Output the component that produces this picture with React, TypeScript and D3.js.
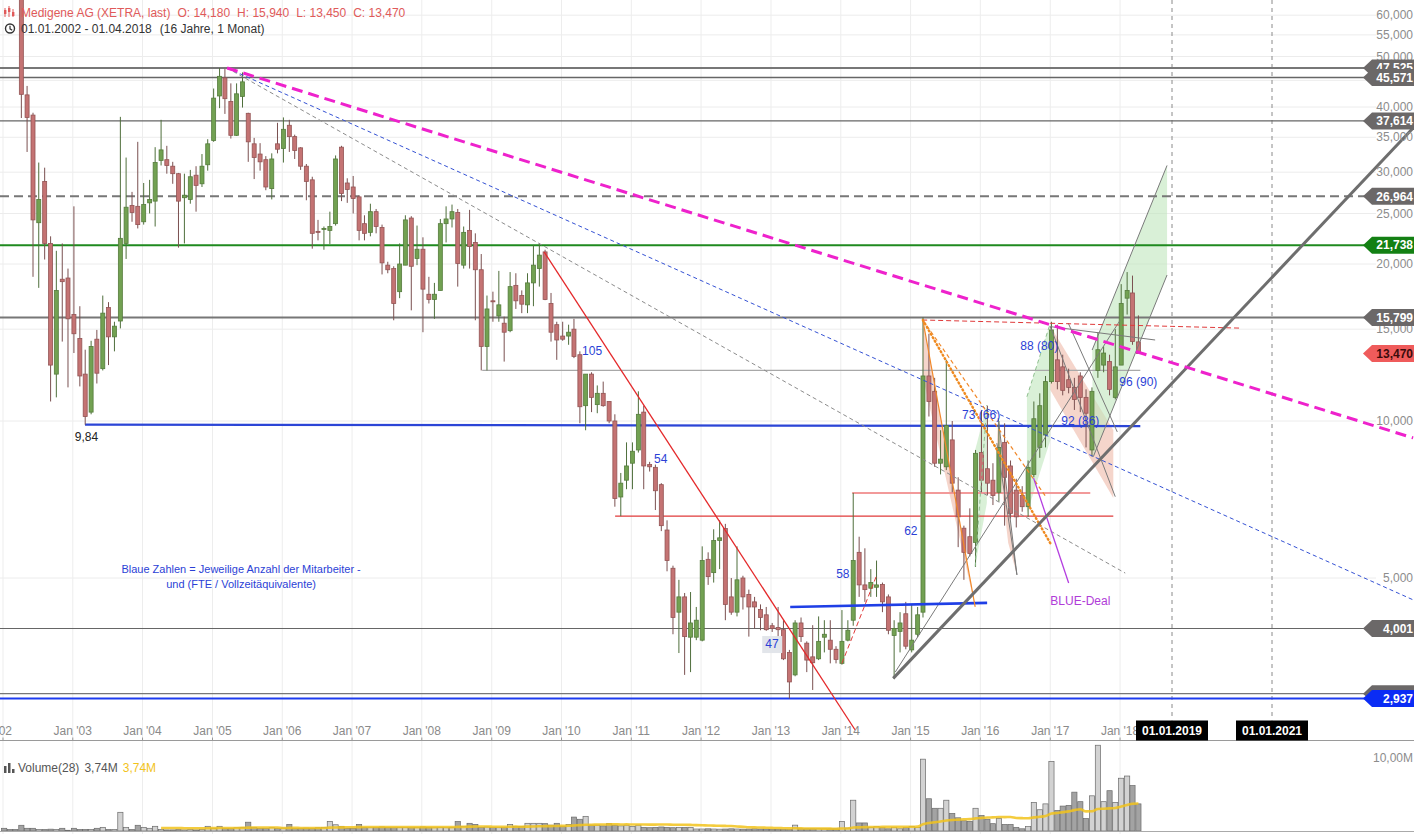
"use client"

import { useEffect, useRef } from "react"
import * as d3 from "d3"

const W = 1414
const H = 834

// Monthly candles Medigene AG (XETRA), Jan 2002 .. Apr 2018, EUR
const opens = [
  75, 72, 69, 67, 42.2, 38.6, 24.0, 28.8, 21.9, 12.3, 18.7, 18.8,
  16.0, 14.4, 12.3, 10.4, 14.35, 12.6, 16.5, 14.5, 15.55, 21.9, 25.9, 25.8,
  24.1, 26.2, 26.4, 31.6, 31.7, 30.8, 29.8, 26.8, 26.6, 29.6, 28.5, 31.0,
  34.5, 42.0, 45.5, 41.0, 35.3, 41.9, 38.9, 34.0, 32.5, 31.7, 27.9, 34.0,
  33.3, 36.9, 35.1, 33.4, 30.8, 29.0, 23.1, 23.3, 23.2, 23.9, 33.5, 28.6,
  28.1, 26.9, 23.9, 23.0, 25.2, 23.5, 19.9, 19.6, 17.7, 19.9, 24.5, 20.5,
  21.35, 17.5, 17.1, 17.8, 23.9, 24.4, 25.1, 19.9, 23.2, 22.0, 19.5, 13.9,
  17.0, 15.9, 15.4, 14.9, 18.2, 17.4, 16.7, 18.4, 19.6, 21.1, 16.8, 15.3,
  14.55, 14.55, 15.0, 13.4, 10.7, 12.3, 10.75, 11.3, 10.9, 10.0, 7.15, 7.7,
  8.3, 8.8, 10.4, 8.25, 8.15, 7.55, 6.18, 5.22, 4.3, 4.6, 3.85, 3.85,
  3.8, 5.43, 5.12, 5.9, 6.22, 4.6, 4.3, 5.0, 4.65, 4.5, 4.35, 4.25,
  4.05, 4.02, 3.98, 3.6, 3.26, 4.1, 3.75, 3.53, 3.5, 3.85, 3.8, 3.65,
  3.43, 3.8, 4.15, 5.6, 4.85, 4.78, 4.8, 4.86, 4.6, 3.88, 3.95, 4.27,
  3.64, 3.9, 4.3, 12.2, 11.4, 8.3, 8.17, 9.2, 7.37, 6.23, 6.0, 5.85,
  8.7, 8.1, 7.7, 7.3, 9.1, 8.2, 7.37, 7.2, 6.85, 7.9, 8.9, 9.4,
  11.9, 13.1, 12.7, 12.0, 11.6, 12.2, 11.1, 8.8, 12.5, 12.8, 13.0, 11.1,
  12.8, 17.2, 17.6, 14.18,
]
const highs = [
  80, 76, 74, 69, 43.9, 39.0, 31.3, 30.6, 22.6, 21.2, 21.9, 19.6,
  25.8, 16.6, 13.7, 14.25, 14.95, 17.4, 16.9, 15.5, 38.3, 32.0, 27.5, 34.3,
  28.6, 29.0, 33.5, 37.8, 33.7, 31.4, 29.9, 29.8, 30.3, 30.8, 32.5, 34.7,
  43.4, 47.5, 47.3, 44.4, 44.4, 46.6, 39.0, 34.9, 34.1, 32.2, 32.6, 37.3,
  38.2, 37.8, 35.4, 33.5, 31.1, 29.4, 24.3, 23.6, 25.2, 32.3, 33.7, 29.2,
  29.5, 27.1, 24.8, 26.1, 25.5, 23.8, 20.2, 19.8, 21.9, 24.8, 24.7, 23.7,
  22.5, 18.9, 18.4, 24.4, 25.8, 26.0, 25.5, 23.6, 25.4, 22.9, 20.9, 17.4,
  17.7, 19.4, 15.85, 19.3, 19.2, 17.8, 19.2, 21.75, 21.9, 21.3, 17.6, 15.5,
  15.5, 15.3, 15.7, 13.6, 12.3, 12.4, 11.7, 11.9, 10.9, 10.3, 7.95, 9.1,
  9.1, 11.4, 10.7, 8.35, 8.25, 7.6, 6.45, 5.28, 4.96, 4.68, 4.7, 4.4,
  5.75, 5.6, 6.2, 6.45, 6.35, 5.0, 5.75, 5.05, 4.75, 4.6, 4.45, 4.4,
  4.1, 4.4, 4.15, 3.64, 4.15, 4.2, 3.78, 4.06, 4.22, 4.15, 4.15, 3.7,
  4.34, 4.15, 7.28, 6.0, 5.7, 5.2, 5.4, 4.9, 4.65, 4.15, 4.3, 4.5,
  4.45, 4.4, 15.8, 14.7, 12.1, 9.6, 13.1, 10.0, 7.8, 6.3, 6.8, 8.8,
  10.5, 10.7, 8.3, 10.0, 9.9, 8.4, 7.75, 7.5, 8.4, 10.9, 11.3, 12.2,
  15.5, 15.3, 13.4, 12.6, 12.1, 12.4, 11.5, 11.6, 14.8, 13.9, 13.4, 15.0,
  18.3, 19.3, 19.0, 15.94,
]
const lows = [
  68, 67, 66, 38.1, 32.8, 18.9, 18.0, 20.4, 10.9, 11.1, 14.2, 11.6,
  13.5, 11.65, 9.84, 10.3, 11.8, 12.5, 12.8, 13.6, 15.05, 20.45, 24.1, 23.4,
  23.8, 25.0, 23.6, 30.9, 29.8, 28.5, 21.5, 21.9, 26.1, 25.2, 28.1, 30.2,
  34.3, 39.8, 38.8, 34.8, 35.2, 39.9, 31.4, 29.1, 30.2, 27.7, 26.6, 32.6,
  31.3, 32.8, 31.8, 30.3, 26.5, 21.4, 22.2, 21.3, 21.85, 23.7, 26.4, 26.2,
  25.0, 22.2, 22.2, 22.6, 22.9, 19.1, 19.2, 15.6, 17.2, 19.9, 16.3, 19.9,
  14.8, 16.8, 15.7, 17.8, 22.0, 23.5, 18.1, 19.6, 19.6, 15.6, 12.5, 12.5,
  15.5, 15.5, 13.0, 14.8, 16.4, 16.1, 16.1, 16.6, 18.1, 17.05, 14.2, 13.1,
  14.25, 14.0, 13.2, 9.9, 9.6, 10.4, 10.35, 10.65, 9.9, 6.85, 6.57, 7.4,
  7.4, 8.7, 7.4, 8.0, 6.75, 6.15, 5.15, 3.9, 3.59, 3.26, 3.3, 3.8,
  3.78, 4.85, 4.9, 5.2, 4.15, 4.25, 4.22, 4.35, 3.86, 4.0, 3.97, 3.96,
  3.94, 3.77, 3.48, 2.937, 3.24, 3.77, 3.3, 3.05, 3.48, 3.6, 3.43, 3.43,
  3.41, 3.78, 4.05, 4.6, 4.5, 4.6, 4.6, 4.3, 3.9, 3.2, 3.6, 3.65,
  3.6, 3.85, 4.2, 10.2, 8.17, 7.9, 8.05, 7.3, 5.73, 4.96, 5.5, 5.25,
  7.3, 7.2, 6.9, 7.0, 6.3, 6.5, 6.25, 6.7, 6.55, 7.8, 8.5, 8.9,
  11.8, 11.5, 11.2, 11.3, 10.5, 10.4, 8.9, 8.55, 12.1, 12.4, 11.2, 11.0,
  12.8, 16.0, 14.0, 13.45,
]
const closes = [
  72, 69, 67, 42.3, 38.2, 24.3, 26.6, 21.9, 12.8, 17.8, 18.5, 15.7,
  14.7, 12.2, 10.2, 13.9, 12.35, 16.1, 14.5, 15.2, 22.4, 25.7, 25.1, 23.8,
  26.0, 26.6, 31.3, 33.1, 30.9, 29.8, 26.4, 27.1, 29.4, 28.3, 30.8, 34.0,
  41.6, 45.8, 41.5, 35.3, 42.4, 44.7, 34.3, 32.0, 31.4, 28.1, 31.8, 33.2,
  36.25, 35.1, 33.0, 30.8, 28.8, 22.9, 23.0, 23.4, 23.6, 31.8, 27.3, 27.8,
  26.7, 23.2, 22.9, 25.2, 23.6, 20.1, 19.5, 16.8, 20.0, 24.3, 19.8, 21.35,
  17.9, 17.1, 17.5, 23.9, 24.4, 25.2, 20.05, 23.0, 21.6, 19.5, 13.9, 16.4,
  16.95, 16.7, 14.8, 18.1, 17.0, 16.75, 18.4, 19.9, 20.8, 17.1, 14.8, 14.3,
  14.35, 14.8, 13.3, 10.65, 12.3, 11.1, 11.3, 10.7, 10.0, 7.1, 7.6, 8.2,
  8.75, 10.3, 8.2, 8.17, 7.35, 6.3, 5.4, 4.2, 4.6, 3.86, 4.1, 4.15,
  5.4, 5.03, 5.9, 5.97, 4.45, 4.3, 4.96, 4.6, 4.4, 4.4, 4.2, 3.98,
  4.0, 3.98, 3.5, 3.16, 4.1, 3.86, 3.48, 3.44, 3.78, 3.9, 3.65, 3.49,
  3.78, 3.97, 5.4, 4.85, 4.75, 4.9, 4.85, 4.5, 3.97, 4.0, 4.1, 3.7,
  3.8, 4.25, 12.2, 10.9, 8.3, 8.45, 9.8, 7.6, 6.55, 5.6, 5.57, 8.67,
  7.7, 7.6, 7.2, 8.9, 7.8, 6.65, 6.55, 6.85, 8.15, 10.1, 10.7, 11.9,
  14.95, 11.9, 11.45, 11.6, 11.0, 11.1, 10.35, 11.4, 13.7, 13.5, 11.5, 12.7,
  16.8, 17.8, 14.2, 13.47,
]
// monthly volume, millions of shares
const volumes = [
  0.37, 0.2, 0.2, 0.78, 0.37, 0.37, 0.2, 0.2, 0.25, 0.2, 0.37, 0.1,
  0.37, 0.2, 0.2, 0.2, 0.37, 0.5, 0.2, 0.2, 2.55, 0.5, 0.2, 0.78,
  0.5, 0.37, 0.64, 0.2, 0.15, 0.15, 0.2, 0.15, 0.2, 0.15, 0.2, 0.64,
  0.37, 0.64, 0.37, 0.37, 0.45, 0.5, 1.2, 0.5, 0.37, 0.37, 0.45, 0.37,
  0.4, 0.9, 0.37, 0.37, 0.4, 0.37, 0.45, 0.5, 1.3, 0.85, 0.64, 0.37,
  0.37, 0.9, 0.5, 0.45, 0.5, 0.55, 0.5, 0.45, 0.5, 0.5, 0.45, 0.5,
  0.55, 0.5, 0.45, 0.5, 0.45, 0.5, 1.3, 0.6, 1.05, 0.9, 0.5, 0.55,
  0.5, 0.45, 0.5, 0.9, 0.6, 0.6, 1.05, 1.05, 1.05, 1.0, 0.8, 1.05,
  0.6, 0.9, 1.9, 1.6, 2.0, 0.8, 0.8, 0.7, 1.0, 0.8, 0.7, 0.8,
  0.6, 0.8, 0.5, 0.45, 0.5, 0.55, 0.5, 0.45, 0.5, 0.5, 0.5, 0.27,
  0.27, 0.3, 0.27, 0.25, 0.27, 0.3, 0.27, 0.25, 0.27, 0.3, 0.27, 0.25,
  0.2, 0.2, 0.2, 0.2, 0.8, 0.3, 0.3, 0.3, 0.3, 0.3, 0.3, 0.3,
  1.3, 0.4, 4.2, 1.1, 1.1, 0.5, 0.6, 0.5, 0.3, 0.5, 0.3, 0.5,
  0.6, 0.5, 9.8, 4.4, 3.1, 3.1, 4.2, 2.4, 1.8, 1.4, 1.3, 3.1,
  2.1, 1.6, 1.0, 1.7, 0.9, 0.9, 0.5, 0.3, 0.6, 3.9, 2.9, 3.7,
  9.5, 2.8, 3.4, 3.5, 5.3, 4.0, 1.7, 4.8, 11.7, 4.0, 5.5, 3.9,
  7.2, 7.5, 6.2, 3.7,
]
const maPeriod = 28

const priceTicks = [60, 55, 50, 45, 40, 35, 30, 25, 20, 15, 10, 5]
const unlabeledTicks = [45]
const yearTicks = d3.range(2002, 2019)
const futureDates = [2019, 2021]

// horizontal levels with price tags on the right
const levelPrices = [47.525, 45.571, 37.614, 26.964, 21.738, 15.799, 4.001, 3.0, 2.937]

// drawn lines: [decimal year, price, decimal year, price]
const magentaTrend = [[2005.209, 47.52, 2023.84, 9.28]]
const blueDashTrend = [[2005.209, 47.52, 2023.84, 4.54]]
const greyDashTrend = [[2005.209, 47.52, 2018.074, 5.11]]
const redTrend = [[2009.751, 21.09, 2014.206, 2.556]]
const greyUpTrend = [[2014.751, 3.21, 2023.84, 36.46]]
const blueSupport = [[2003.175, 9.84, 2018.29, 9.78]]
const blueBase = [[2013.275, 4.40, 2016.097, 4.48]]
const greySupport = [[2008.863, 12.5, 2018.29, 12.5]]
const redSupport = [[2010.768, 6.57, 2017.903, 6.57]]
const pinkSupport = [[2014.163, 7.28, 2017.573, 7.28]]
const redDashLines = [[2015.166, 15.62, 2020.36, 15.07], [2014.016, 3.43, 2014.517, 5.07]]
const thinGreyLines = [
  [2014.78, 3.30, 2018.003, 15.62],
  [2017.0, 15.17, 2018.61, 14.30],
  [2017.0, 15.17, 2017.931, 7.16],
  [2017.258, 15.4, 2017.96, 9.53],
  [2017.6, 13.68, 2018.885, 30.9],
  [2017.616, 8.54, 2018.885, 19.05],
  [2016.255, 10.13, 2016.523, 5.07],
  [2016.236, 9.07, 2016.523, 5.07],
]
const orangeSolid = [[2015.176, 15.62, 2015.926, 4.40]]
const orangeDotted = [[2015.176, 15.62, 2017.0, 5.83]]
const orangeDashed = [[2015.176, 15.62, 2016.93, 7.18]]
const greenDashed = [[2016.666, 11.13, 2017.0, 15.4], [2015.926, 5.26, 2016.093, 10.73]]
const purpleLine = [[2016.761, 7.77, 2017.263, 4.89]]

const salmonZones = [
  [[2015.176, 15.62], [2015.176, 12.16], [2015.926, 4.40]],
  [[2016.255, 10.13], [2016.523, 5.07], [2016.398, 5.84], [2016.236, 9.07]],
  [[2017.0, 15.21], [2017.903, 9.61], [2017.903, 7.12], [2017.0, 11.47]],
]
const greenZones = [
  [[2015.926, 8.80], [2016.093, 10.73], [2016.093, 6.96], [2015.926, 5.26]],
  [[2016.666, 11.13], [2017.0, 15.4], [2017.0, 9.19], [2016.666, 6.65]],
  [[2017.6, 13.68], [2018.885, 30.9], [2018.885, 19.05], [2017.616, 8.54]],
]

// staff numbers written on the chart: [text, decimal year, price]
const staffNotes = [
  ["105", 2010.295, 13.38],
  ["54", 2011.327, 8.31],
  ["58", 2013.934, 5.0],
  ["62", 2014.908, 6.04],
  ["73 (66)", 2015.739, 10.09],
  ["88 (80)", 2016.57, 13.68],
  ["92 (86)", 2017.158, 9.82],
  ["96 (90)", 2017.989, 11.67],
]
const boxedNote = ["47", 2012.917, 3.67]
const lowNote = ["9,84", 2003.03, 9.15]
const dealNote = ["BLUE-Deal", 2017.0, 4.44]
const legendLines = [
  ["Blaue Zahlen = Jeweilige Anzahl der Mitarbeiter -", 2005.41, 5.11],
  ["und (FTE / Vollzeitäquivalente)", 2005.41, 4.79],
]

const de = d3.formatLocale({ decimal: ",", thousands: ".", grouping: [3], currency: ["", ""] })
const fmt3 = de.format(".3f")
const fmt2 = de.format(".2f")

const FONT = "'Liberation Sans', Arial, Helvetica, sans-serif"

function yd(t: number) {
  const y = Math.floor(t)
  const a = new Date(y, 0, 1).getTime()
  const b = new Date(y + 1, 0, 1).getTime()
  return new Date(a + (t - y) * (b - a))
}

export default function App() {
  const svgRef = useRef<SVGSVGElement>(null)

  useEffect(() => {
    if (!svgRef.current) return
    const svg = d3.select(svgRef.current)
    svg.selectAll("*").remove()

    const axisY = 740.5
    const volBase = 831

    const x = d3
      .scaleTime()
      .domain([new Date(2002, 0, 1), new Date(2018, 4, 1), new Date(2019, 0, 1), new Date(2021, 0, 1), new Date(2023, 10, 10)])
      .range([3, 1143, 1172, 1272, 1414])
    const y = d3.scaleLog().domain([2.5, 60]).range([735.0, 15.17])
    const yv = d3.scaleLinear().domain([0, 10]).range([volBase, 757.7])

    const px = (t: number) => x(yd(t))
    const py = (p: number) => y(p)

    const candles = opens.map((o, i) => ({
      date: new Date(2002, i, 7),
      o,
      h: highs[i],
      l: lows[i],
      c: closes[i],
      v: volumes[i],
    }))

    svg.append("rect").attr("width", W).attr("height", H).attr("fill", "#fff")

    // grid
    const grid = svg.append("g")
    grid
      .selectAll("line.h")
      .data(priceTicks)
      .join("line")
      .attr("x1", 0)
      .attr("x2", 1376)
      .attr("y1", (d) => py(d))
      .attr("y2", (d) => py(d))
      .attr("stroke", "#ececec")
    grid
      .selectAll("line.v")
      .data(yearTicks)
      .join("line")
      .attr("x1", (d) => x(new Date(d, 0, 1)))
      .attr("x2", (d) => x(new Date(d, 0, 1)))
      .attr("y1", 0)
      .attr("y2", H)
      .attr("stroke", "#ededed")

    // future date markers
    svg
      .append("g")
      .selectAll("line")
      .data(futureDates)
      .join("line")
      .attr("x1", (d) => x(new Date(d, 0, 1)))
      .attr("x2", (d) => x(new Date(d, 0, 1)))
      .attr("y1", 0)
      .attr("y2", axisY - 20)
      .attr("stroke", "#8a8a8a")
      .attr("stroke-dasharray", "4,4")

    const poly = d3.line<number[]>().x((d) => px(d[0])).y((d) => py(d[1]))

    // shaded zones
    const zones = svg.append("g")
    zones
      .selectAll("path.s")
      .data(salmonZones)
      .join("path")
      .attr("d", (d) => poly(d) + "Z")
      .attr("fill", "#eeb9a8")
      .attr("fill-opacity", 0.6)
    zones
      .selectAll("path.g")
      .data(greenZones)
      .join("path")
      .attr("class", "g")
      .attr("d", (d) => poly(d) + "Z")
      .attr("fill", "#bfe6bd")
      .attr("fill-opacity", 0.6)

    // horizontal levels
    const levelLook = [
      { stroke: "#777", w: 2, dash: "", tag: "#6b6868", text: "#fff" },
      { stroke: "#666", w: 1.5, dash: "", tag: "#6b6868", text: "#fff" },
      { stroke: "#666", w: 1.2, dash: "", tag: "#6b6868", text: "#fff" },
      { stroke: "#777", w: 2, dash: "9,5", tag: "#6b6868", text: "#fff" },
      { stroke: "#1f8a1f", w: 2, dash: "", tag: "#138013", text: "#fff" },
      { stroke: "#777", w: 2, dash: "", tag: "#6b6868", text: "#fff" },
      { stroke: "#666", w: 1.2, dash: "", tag: "#6b6868", text: "#fff" },
      { stroke: "#777", w: 1.2, dash: "", tag: "#6b6868", text: "none" },
      { stroke: "#1e3cf0", w: 2, dash: "", tag: "#0b2cf5", text: "#fff" },
    ]
    svg
      .append("g")
      .selectAll("line")
      .data(levelPrices)
      .join("line")
      .attr("x1", 0)
      .attr("x2", 1370)
      .attr("y1", (d) => py(d))
      .attr("y2", (d) => py(d))
      .attr("stroke", (_, i) => levelLook[i].stroke)
      .attr("stroke-width", (_, i) => levelLook[i].w)
      .attr("stroke-dasharray", (_, i) => levelLook[i].dash || null)

    const seg = (arr: number[][], stroke: string, w: number, dash?: string, cap?: string) =>
      svg
        .append("g")
        .selectAll("line")
        .data(arr)
        .join("line")
        .attr("x1", (d) => px(d[0]))
        .attr("y1", (d) => py(d[1]))
        .attr("x2", (d) => px(d[2]))
        .attr("y2", (d) => py(d[3]))
        .attr("stroke", stroke)
        .attr("stroke-width", w)
        .attr("stroke-dasharray", dash || null)
        .attr("stroke-linecap", cap || "butt")

    seg(greySupport, "#a8a8a8", 1.2)
    seg(redSupport, "#e03a3a", 1.2)
    seg(pinkSupport, "#f29a9a", 2)
    seg(blueSupport, "#2b45d6", 2.2)

    // candles
    const cg = svg.append("g")
    const up = (d: any) => d.c >= d.o
    cg.selectAll("line")
      .data(candles)
      .join("line")
      .attr("x1", (d) => x(d.date))
      .attr("x2", (d) => x(d.date))
      .attr("y1", (d) => py(d.h))
      .attr("y2", (d) => py(d.l))
      .attr("stroke", (d) => (up(d) ? "#4f6f3c" : "#7a5050"))
      .attr("stroke-width", 1)
    cg.selectAll("rect")
      .data(candles)
      .join("rect")
      .attr("x", (d) => x(d.date) - 2)
      .attr("width", 4)
      .attr("y", (d) => py(Math.max(d.o, d.c)))
      .attr("height", (d) => Math.max(1, py(Math.min(d.o, d.c)) - py(Math.max(d.o, d.c))))
      .attr("fill", (d) => (up(d) ? "#72a152" : "#c47373"))
      .attr("stroke", (d) => (up(d) ? "#557c3c" : "#935454"))
      .attr("stroke-width", 0.8)

    // trend lines
    seg(thinGreyLines, "#7a7a7a", 1)
    seg(greyDashTrend, "#8c8c8c", 1, "4,3")
    seg(blueDashTrend, "#3552d4", 1, "4,3")
    seg(redTrend, "#e4282a", 1.3)
    seg(blueBase, "#1f3fe6", 2.6)
    seg(redDashLines, "#e03a3a", 1, "5,3")
    seg(orangeSolid, "#f0882a", 1.2)
    seg(orangeDashed, "#f0882a", 1.2, "4,3")
    seg(orangeDotted, "#ef8a20", 2.4, "1,3", "round")
    seg(greenDashed, "#8fbf8f", 1, "4,3")
    seg(purpleLine, "#b43ee0", 1.3)
    seg(greyUpTrend, "#6e6e6e", 3)
    seg(magentaTrend, "#ee22cc", 3, "11,6")

    // notes
    const notes = svg.append("g").style("font-family", FONT)
    notes
      .selectAll("text.s")
      .data(staffNotes)
      .join("text")
      .attr("x", (d) => px(d[1] as number))
      .attr("y", (d) => py(d[2] as number))
      .attr("fill", "#2b3fd6")
      .style("font-size", "12px")
      .text((d) => d[0] as string)
    const bx = px(boxedNote[1] as number)
    const by = py(boxedNote[2] as number)
    notes.append("rect").attr("x", bx - 3).attr("y", by - 12).attr("width", 20).attr("height", 17).attr("fill", "#e2e5ea")
    notes.append("text").attr("x", bx).attr("y", by).attr("fill", "#2b3fd6").style("font-size", "12px").text(boxedNote[0] as string)
    notes
      .append("text")
      .attr("x", px(lowNote[1] as number))
      .attr("y", py(lowNote[2] as number))
      .attr("fill", "#222")
      .style("font-size", "12px")
      .text(lowNote[0] as string)
    notes
      .append("text")
      .attr("x", px(dealNote[1] as number))
      .attr("y", py(dealNote[2] as number))
      .attr("fill", "#b03cd8")
      .style("font-size", "12px")
      .text(dealNote[0] as string)
    notes
      .selectAll("text.l")
      .data(legendLines)
      .join("text")
      .attr("x", (d) => px(d[1] as number))
      .attr("y", (d) => py(d[2] as number))
      .attr("text-anchor", "middle")
      .attr("fill", "#2b3fd6")
      .style("font-size", "11px")
      .text((d) => d[0] as string)

    // x axis
    const xa = svg.append("g").style("font-family", FONT)
    xa.append("line").attr("x1", 0).attr("x2", W).attr("y1", axisY).attr("y2", axisY).attr("stroke", "#9a9a9a")
    xa.selectAll("line.t")
      .data(yearTicks)
      .join("line")
      .attr("x1", (d) => x(new Date(d, 0, 1)))
      .attr("x2", (d) => x(new Date(d, 0, 1)))
      .attr("y1", axisY - 3)
      .attr("y2", axisY)
      .attr("stroke", "#9a9a9a")
    xa.selectAll("text")
      .data(yearTicks)
      .join("text")
      .attr("x", (d, i) => (i === 0 ? x(new Date(d, 0, 1)) + 9 : x(new Date(d, 0, 1))))
      .attr("y", 735)
      .attr("text-anchor", (_, i) => (i === 0 ? "end" : "middle"))
      .attr("fill", "#8a8a8a")
      .style("font-size", "12px")
      .text((d) => `Jan '${String(d).slice(2)}`)
    const fut = xa.selectAll("g.f").data(futureDates).join("g")
    fut
      .append("rect")
      .attr("x", (d) => x(new Date(d, 0, 1)) - 36)
      .attr("y", axisY - 20)
      .attr("width", 72)
      .attr("height", 20)
      .attr("fill", "#000")
    fut
      .append("text")
      .attr("x", (d) => x(new Date(d, 0, 1)))
      .attr("y", axisY - 5.5)
      .attr("text-anchor", "middle")
      .attr("fill", "#fff")
      .style("font-size", "12px")
      .style("font-weight", "bold")
      .text((d) => `01.01.${d}`)

    // y labels
    svg
      .append("g")
      .style("font-family", FONT)
      .selectAll("text")
      .data(priceTicks.filter((t) => !unlabeledTicks.includes(t)))
      .join("text")
      .attr("x", 1413)
      .attr("y", (d) => py(d))
      .attr("dy", "0.35em")
      .attr("text-anchor", "end")
      .attr("fill", "#8c8c8c")
      .style("font-size", "12px")
      .text((d) => fmt3(d))

    // level tags
    const tag = (yy: number, fill: string, txt: string, color: string) => {
      const t = svg.append("g").style("font-family", FONT)
      t.append("path")
        .attr("d", `M1363,${yy} L1372,${yy - 8.5} L1414,${yy - 8.5} L1414,${yy + 8.5} L1372,${yy + 8.5} Z`)
        .attr("fill", fill)
      if (color !== "none")
        t.append("text")
          .attr("x", 1413)
          .attr("y", yy)
          .attr("dy", "0.36em")
          .attr("text-anchor", "end")
          .attr("fill", color)
          .style("font-size", "12px")
          .style("font-weight", "bold")
          .text(txt)
    }
    levelPrices.forEach((p, i) => tag(py(p), levelLook[i].tag, fmt3(p), levelLook[i].text))
    const last = candles[candles.length - 1]
    tag(py(last.c), "#ef5b5b", fmt3(last.c), "#3b0b0b")

    // volume panel
    const vg = svg.append("g")
    vg.selectAll("rect")
      .data(candles)
      .join("rect")
      .attr("x", (d) => x(d.date) - 2.6)
      .attr("width", 5.2)
      .attr("y", (d) => yv(d.v))
      .attr("height", (d) => volBase - yv(d.v))
      .attr("fill", (d) => (up(d) ? "#d2d2d2" : "#a3a3a3"))
      .attr("stroke", "#6a6a6a")
      .attr("stroke-width", 0.7)
    const ma = candles.map((d, i) =>
      i < maPeriod - 1 ? null : { date: d.date, v: d3.mean(candles.slice(i - maPeriod + 1, i + 1), (c) => c.v) as number }
    )
    const maPts = ma.filter((d) => d !== null) as { date: Date; v: number }[]
    vg.append("path")
      .attr("d", d3.line<{ date: Date; v: number }>().x((d) => x(d.date)).y((d) => yv(d.v)).curve(d3.curveMonotoneX)(maPts))
      .attr("fill", "none")
      .attr("stroke", "#f2c31c")
      .attr("stroke-opacity", 0.85)
      .attr("stroke-width", 2.6)
    vg.append("line").attr("x1", 0).attr("x2", W).attr("y1", volBase + 0.5).attr("y2", volBase + 0.5).attr("stroke", "#aaa")

    const lastMa = maPts[maPts.length - 1].v
    const vt = svg.append("g").style("font-family", FONT).style("font-size", "12px")
    ;[0, 4, 8].forEach((dx, i) =>
      vt.append("rect").attr("x", 4 + dx).attr("y", [766, 763, 769][i]).attr("width", 2.5).attr("height", [7, 10, 4][i]).attr("fill", "#555")
    )
    const vtext = vt.append("text").attr("x", 18).attr("y", 772).attr("fill", "#555")
    vtext.append("tspan").text(`Volume(${maPeriod})`)
    vtext.append("tspan").attr("dx", 5).text(`${fmt2(lastMa)}M`)
    vtext.append("tspan").attr("dx", 5).attr("fill", "#f2c31c").text(`${fmt2(lastMa)}M`)
    vt.append("text").attr("x", 1413).attr("y", 762).attr("text-anchor", "end").attr("fill", "#8c8c8c").text(`${fmt2(10)}M`)

    // header
    const hd = svg.append("g").style("font-family", FONT).style("font-size", "12px")
    ;[0, 4, 8].forEach((dx, i) => {
      hd.append("line").attr("x1", 5 + dx).attr("x2", 5 + dx).attr("y1", [8, 6, 9][i]).attr("y2", [17, 17, 17][i]).attr("stroke", "#e05a5a").attr("stroke-width", 1)
      hd.append("rect").attr("x", 4 + dx).attr("y", [10, 8, 12][i]).attr("width", 2.4).attr("height", 4).attr("fill", "#e05a5a")
    })
    const h1 = hd.append("text").attr("x", 21).attr("y", 17).attr("fill", "#e05a5a")
    h1.append("tspan").text("Medigene AG (XETRA, last)")
    h1.append("tspan").attr("dx", 7).text(`O: ${fmt3(last.o)}`)
    h1.append("tspan").attr("dx", 7).text(`H: ${fmt3(last.h)}`)
    h1.append("tspan").attr("dx", 7).text(`L: ${fmt3(last.l)}`)
    h1.append("tspan").attr("dx", 7).text(`C: ${fmt3(last.c)}`)
    hd.append("circle").attr("cx", 10).attr("cy", 28.5).attr("r", 4.5).attr("fill", "none").attr("stroke", "#333").attr("stroke-width", 1.4)
    hd.append("path").attr("d", "M10,25.8 L10,28.8 L12.2,30.2").attr("fill", "none").attr("stroke", "#333").attr("stroke-width", 1.2)
    const h2 = hd.append("text").attr("x", 21).attr("y", 33).attr("fill", "#333")
    h2.append("tspan").text("01.01.2002 - 01.04.2018")
    h2.append("tspan").attr("dx", 8).text("(16 Jahre, 1 Monat)")
  }, [])

  return (
    <svg
      ref={svgRef}
      width={W}
      height={H}
      style={{ position: "absolute", left: 0, top: 0, display: "block" }}
    ></svg>
  )
}
